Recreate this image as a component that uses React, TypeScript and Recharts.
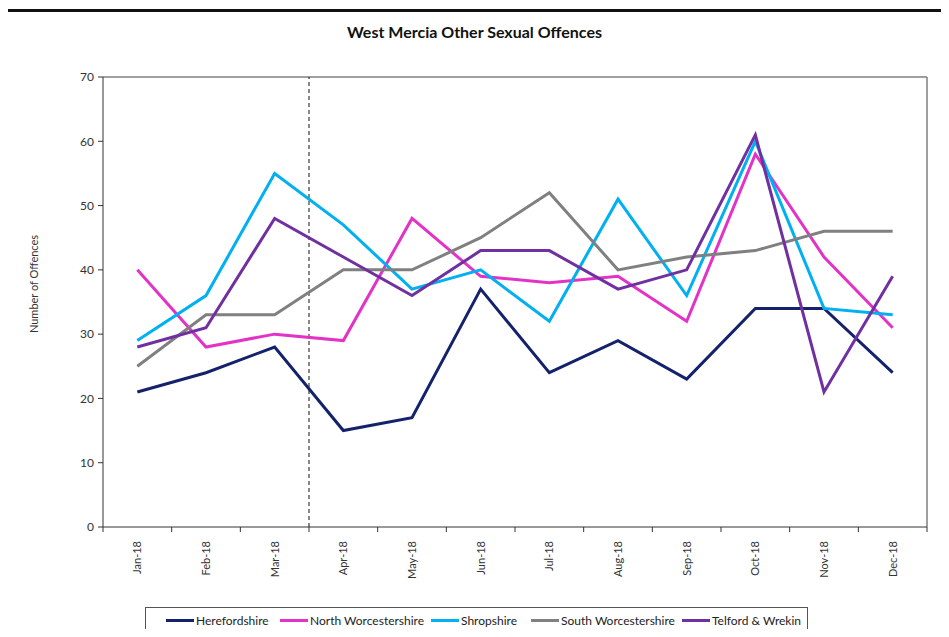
import React from 'react';
import { LineChart, Line, XAxis, YAxis, ReferenceLine } from 'recharts';

const months = ['Jan-18', 'Feb-18', 'Mar-18', 'Apr-18', 'May-18', 'Jun-18', 'Jul-18', 'Aug-18', 'Sep-18', 'Oct-18', 'Nov-18', 'Dec-18'];
const herefordshire = [21, 24, 28, 15, 17, 37, 24, 29, 23, 34, 34, 24];
const northWorcestershire = [40, 28, 30, 29, 48, 39, 38, 39, 32, 58, 42, 31];
const shropshire = [29, 36, 55, 47, 37, 40, 32, 51, 36, 60, 34, 33];
const southWorcestershire = [25, 33, 33, 40, 40, 45, 52, 40, 42, 43, 46, 46];
const telfordWrekin = [28, 31, 48, 42, 36, 43, 43, 37, 40, 61, 21, 39];
const yTicks = [0, 10, 20, 30, 40, 50, 60, 70];

const series = [
  { key: 'herefordshire', name: 'Herefordshire', color: '#14226c', values: herefordshire },
  { key: 'northWorcestershire', name: 'North Worcestershire', color: '#e233c6', values: northWorcestershire },
  { key: 'shropshire', name: 'Shropshire', color: '#00b0f0', values: shropshire },
  { key: 'southWorcestershire', name: 'South Worcestershire', color: '#808080', values: southWorcestershire },
  { key: 'telfordWrekin', name: 'Telford & Wrekin', color: '#7030a0', values: telfordWrekin },
];

const data = months.map((month, i) => {
  const row: Record<string, string | number> = { month };
  series.forEach((s) => { row[s.key] = s.values[i]; });
  return row;
});

const FONT = 'Lato, "Open Sans", sans-serif';
const legendLefts = [166, 280, 431, 531, 682];

// plot area: 103..927 x 77..527
const PLOT = { left: 103, top: 77, width: 824, height: 450 };
const STEP = PLOT.width / months.length;

const MonthTick = (props: any) => {
  const { x, y, payload, index } = props;
  const ty = y + 6;
  const axisY = PLOT.top + PLOT.height;
  return (
    <g>
      <line x1={x - STEP / 2} x2={x - STEP / 2} y1={axisY} y2={axisY + 5} stroke="#333" />
      {index === months.length - 1 && (
        <line x1={x + STEP / 2} x2={x + STEP / 2} y1={axisY} y2={axisY + 5} stroke="#333" />
      )}
      <text
        x={x}
        y={ty}
        transform={`rotate(-90, ${x}, ${ty})`}
        textAnchor="end"
        dy="0.35em"
        fontSize={11}
        fontFamily={FONT}
        fill="#333"
      >
        {payload.value}
      </text>
    </g>
  );
};

// dashed divider sits between Mar-18 and Apr-18
const DividerShape = (props: any) => {
  const { x1, y1, x2, y2 } = props;
  const x = (x1 ?? 0) + STEP / 2;
  return <line x1={x} x2={(x2 ?? x1) + STEP / 2} y1={y1} y2={y2} stroke="#111" strokeDasharray="4 3" />;
};

// plot frame (top and right edges) plus the outer chart border
const FrameShape = (props: any) => {
  const { x1 } = props;
  const right = (x1 ?? 0) + STEP / 2;
  const bottom = PLOT.top + PLOT.height;
  return (
    <g>
      <line x1={PLOT.left} y1={PLOT.top} x2={right} y2={PLOT.top} stroke="#7f7f7f" strokeWidth={1.5} />
      <line x1={right} y1={PLOT.top} x2={right} y2={bottom} stroke="#7f7f7f" strokeWidth={1.5} />
      <rect x={5.5} y={10.5} width={938} height={660} fill="none" stroke="#111" strokeWidth={3} />
    </g>
  );
};

export default function App() {
  return (
    <div style={{ position: 'relative', width: 949, height: 637, margin: -8, overflow: 'hidden', background: '#fff' }}>
      <div style={{
        position: 'absolute', left: 0, width: 949, top: 22, textAlign: 'center',
        fontFamily: FONT, fontWeight: 700, fontSize: 16, color: '#111',
      }}>
        West Mercia Other Sexual Offences
      </div>
      <div style={{ position: 'absolute', left: 0, top: 0 }}>
        <LineChart width={949} height={637} data={data} margin={{ top: PLOT.top, right: 949 - PLOT.left - PLOT.width, left: 0, bottom: 0 }}>
          <XAxis
            dataKey="month"
            height={637 - PLOT.top - PLOT.height}
            stroke="#333"
            tickLine={false}
            interval={0}
            padding={{ left: STEP / 2, right: STEP / 2 }}
            tick={<MonthTick />}
          />
          <YAxis
            domain={[0, 70]}
            ticks={yTicks}
            width={PLOT.left}
            stroke="#333"
            tickSize={5}
            tickMargin={4}
            tick={{ fontSize: 12, fontFamily: FONT, fill: '#333' }}
            label={{
              content: () => (
                <text
                  x={34}
                  y={284}
                  transform="rotate(-90, 34, 284)"
                  textAnchor="middle"
                  dy="0.35em"
                  fontSize={11}
                  fontFamily={FONT}
                  fill="#333"
                >
                  Number of Offences
                </text>
              ),
            }}
          />
          <ReferenceLine x="Dec-18" shape={<FrameShape />} ifOverflow="visible" />
          <ReferenceLine x="Mar-18" shape={<DividerShape />} ifOverflow="visible" />
          {series.map((s) => (
            <Line
              key={s.key}
              type="linear"
              dataKey={s.key}
              name={s.name}
              stroke={s.color}
              strokeWidth={3}
              dot={false}
              isAnimationActive={false}
            />
          ))}
        </LineChart>
      </div>
      <div style={{
        position: 'absolute', left: 145, top: 607, width: 663, height: 25,
        border: '1px solid #555', boxSizing: 'border-box',
      }} />
      {series.map((s, i) => (
        <div key={s.key} style={{
          position: 'absolute', left: legendLefts[i], top: 612, display: 'flex', alignItems: 'center',
          fontFamily: FONT, fontSize: 12, color: '#222', whiteSpace: 'nowrap', height: 16,
        }}>
          <span style={{ display: 'inline-block', width: 28, height: 3, background: s.color, marginRight: 2 }} />
          {s.name}
        </div>
      ))}
    </div>
  );
}
